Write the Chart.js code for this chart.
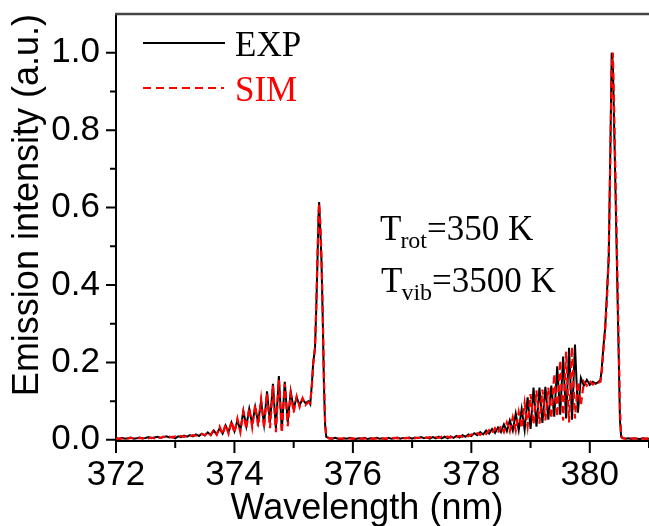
<!DOCTYPE html>
<html><head><meta charset="utf-8">
<script src="https://cdn.jsdelivr.net/npm/chart.js@4.4.1/dist/chart.umd.min.js"></script>
<style>html,body{margin:0;padding:0;background:#fff;}#wrap{width:649px;height:526px;}</style>
</head><body>
<div id="wrap"><canvas id="c" width="649" height="526"></canvas></div>
<script>
// ---- data ----
const wavelength = [
372.00,372.05,372.10,372.15,372.20,372.25,372.30,372.35,372.40,372.45,
372.50,372.55,372.60,372.65,372.70,372.75,372.80,372.85,372.90,372.95,
373.00,373.05,373.10,373.15,373.20,373.25,373.30,373.35,373.40,373.45,
373.50,373.55,373.60,373.65,373.70,373.75,373.80,373.85,373.90,373.95,
374.00,374.05,374.10,374.15,374.20,374.25,374.30,374.35,374.40,374.45,
374.50,374.55,374.60,374.65,374.70,374.75,374.80,374.85,374.90,374.95,
375.00,375.05,375.10,375.15,375.20,375.25,
375.28,375.31,375.33,375.36,375.38,375.40,375.42,375.43,375.45,375.47,375.49,375.51,375.53,
375.55,375.60,375.65,375.70,375.75,375.80,375.85,375.90,375.95,
376.00,376.05,376.10,376.15,376.20,376.25,376.30,376.35,376.40,376.45,
376.50,376.55,376.60,376.65,376.70,376.75,376.80,376.85,376.90,376.95,
377.00,377.05,377.10,377.15,377.20,377.25,377.30,377.35,377.40,377.45,
377.50,377.55,377.60,377.65,377.70,377.75,377.80,377.85,377.90,377.95,
378.00,378.05,378.10,378.15,378.20,378.25,378.30,378.35,378.40,378.45,
378.50,378.55,378.60,378.65,378.70,378.75,378.80,378.85,378.90,378.95,
379.00,379.05,379.10,379.15,379.20,379.25,379.30,379.35,379.40,379.45,
379.50,379.55,379.60,379.65,379.70,379.75,379.80,379.85,379.90,379.95,
380.00,380.05,380.10,380.15,
380.18,380.20,380.23,380.26,380.29,380.32,380.35,380.37,380.39,380.42,380.45,380.48,380.51,380.53,
380.55,380.60,380.65,380.70,380.75,380.80,380.85,380.90,380.95,381.00
];
const expIntensity = [
0.004,0.002,0.005,0.003,0.004,0.006,0.003,0.004,0.006,0.004,
0.005,0.007,0.004,0.006,0.008,0.005,0.007,0.009,0.006,0.008,
0.004,0.009,0.007,0.011,0.008,0.012,0.009,0.014,0.010,0.016,
0.011,0.019,0.012,0.024,0.014,0.030,0.016,0.037,0.020,0.045,
0.022,0.050,0.025,0.075,0.035,0.080,0.040,0.085,0.045,0.100,
0.040,0.125,0.045,0.145,0.030,0.165,0.025,0.150,0.045,0.125,
0.080,0.110,0.090,0.105,0.095,0.100,
0.092,0.150,0.200,0.235,0.330,0.450,0.580,0.614,0.540,0.460,0.320,0.150,0.040,
0.008,0.004,0.003,0.005,0.003,0.002,0.004,0.003,0.005,
0.003,0.002,0.004,0.003,0.005,0.002,0.004,0.003,0.005,0.003,
0.004,0.002,0.005,0.003,0.004,0.006,0.003,0.005,0.004,0.006,
0.003,0.006,0.004,0.007,0.004,0.006,0.003,0.007,0.004,0.008,
0.004,0.008,0.004,0.009,0.005,0.010,0.006,0.012,0.008,0.014,
0.010,0.017,0.012,0.020,0.014,0.024,0.016,0.028,0.018,0.032,
0.020,0.040,0.022,0.050,0.024,0.068,0.025,0.080,0.026,0.110,
0.028,0.135,0.034,0.135,0.044,0.137,0.052,0.140,0.060,0.190,
0.065,0.215,0.055,0.238,0.052,0.246,0.070,0.160,0.140,0.155,
0.142,0.150,0.145,0.150,
0.155,0.180,0.240,0.290,0.380,0.470,0.780,1.000,0.970,0.750,0.520,0.280,0.050,0.008,
0.005,0.003,0.004,0.002,0.004,0.003,0.002,0.004,0.003,0.003
];
const simIntensity = [
0.003,0.004,0.003,0.005,0.003,0.005,0.004,0.003,0.005,0.003,
0.006,0.004,0.006,0.004,0.007,0.005,0.008,0.006,0.008,0.006,
0.009,0.007,0.010,0.008,0.011,0.009,0.012,0.011,0.013,0.015,
0.012,0.020,0.013,0.026,0.013,0.034,0.014,0.040,0.016,0.048,
0.018,0.055,0.020,0.072,0.028,0.083,0.032,0.090,0.035,0.105,
0.030,0.120,0.030,0.140,0.020,0.155,0.018,0.145,0.035,0.120,
0.070,0.112,0.085,0.108,0.090,0.098,
0.095,0.145,0.195,0.240,0.340,0.460,0.585,0.610,0.560,0.470,0.340,0.170,0.050,
0.010,0.003,0.004,0.003,0.004,0.003,0.003,0.004,0.003,
0.004,0.003,0.003,0.004,0.003,0.004,0.003,0.004,0.003,0.004,
0.003,0.004,0.003,0.004,0.005,0.004,0.005,0.004,0.005,0.004,
0.005,0.004,0.006,0.004,0.006,0.005,0.007,0.005,0.007,0.005,
0.008,0.006,0.008,0.006,0.009,0.007,0.010,0.008,0.012,0.009,
0.014,0.011,0.017,0.013,0.020,0.015,0.025,0.017,0.030,0.018,
0.036,0.020,0.045,0.022,0.058,0.024,0.072,0.030,0.095,0.035,
0.118,0.040,0.128,0.042,0.130,0.050,0.135,0.055,0.170,0.060,
0.205,0.050,0.228,0.045,0.240,0.055,0.150,0.090,0.150,0.140,
0.152,0.143,0.150,0.148,
0.150,0.170,0.230,0.285,0.360,0.480,0.760,0.960,1.000,0.790,0.560,0.320,0.080,0.012,
0.004,0.003,0.003,0.004,0.003,0.003,0.004,0.003,0.003,0.004
];
const seriesNames = ['EXP', 'SIM'];
const xTickValues = [372, 374, 376, 378, 380];
const xMinorTickValues = [373, 375, 377, 379, 381];
const yTickValues = [0, 0.2, 0.4, 0.6, 0.8, 1.0];
const yMinorTickValues = [0.1, 0.3, 0.5, 0.7, 0.9];
const xTitle = 'Wavelength (nm)';
const yTitle = 'Emission intensity (a.u.)';
const annotations = [
  {main: 'T', sub: 'rot', rest: '=350 K'},
  {main: 'T', sub: 'vib', rest: '=3500 K'}
];

// ---- chart ----
const SANS = '"Liberation Sans", Arial, sans-serif';
const SERIF = '"Liberation Serif", "Times New Roman", serif';

const decorPlugin = {
  id: 'decor',
  afterDraw(chart) {
    const {ctx, chartArea: a, scales: {x, y}} = chart;
    ctx.save();
    ctx.strokeStyle = '#000';
    ctx.lineWidth = 2;
    ctx.beginPath();
    xTickValues.forEach(v => { const p = x.getPixelForValue(v); ctx.moveTo(p, a.bottom); ctx.lineTo(p, a.bottom + 12); });
    xMinorTickValues.forEach(v => { const p = x.getPixelForValue(v); ctx.moveTo(p, a.bottom); ctx.lineTo(p, a.bottom + 7); });
    yTickValues.forEach(v => { const p = y.getPixelForValue(v); ctx.moveTo(a.left, p); ctx.lineTo(a.left - 10, p); });
    yMinorTickValues.forEach(v => { const p = y.getPixelForValue(v); ctx.moveTo(a.left, p); ctx.lineTo(a.left - 6, p); });
    ctx.stroke();
    ctx.strokeStyle = '#444';
    ctx.lineWidth = 2.5;
    ctx.beginPath();
    ctx.moveTo(a.left - 1, a.top);
    ctx.lineTo(chart.width, a.top);
    ctx.stroke();
    ctx.fillStyle = '#000';
    ctx.font = '36px ' + SANS;
    ctx.textAlign = 'center';
    ctx.textBaseline = 'alphabetic';
    ctx.fillText(xTitle, 367, 519);
    ctx.lineWidth = 2;
    ctx.strokeStyle = '#000';
    ctx.setLineDash([]);
    ctx.beginPath(); ctx.moveTo(143, 43); ctx.lineTo(225, 43); ctx.stroke();
    ctx.strokeStyle = '#ff0000';
    ctx.setLineDash([8, 5]);
    ctx.beginPath(); ctx.moveTo(143, 88); ctx.lineTo(224, 88); ctx.stroke();
    ctx.setLineDash([]);
    ctx.font = '35px ' + SERIF;
    ctx.textAlign = 'left';
    ctx.fillStyle = '#000';
    ctx.fillText(seriesNames[0], 235, 56);
    ctx.fillStyle = '#ff0000';
    ctx.fillText(seriesNames[1], 235, 101);
    ctx.fillStyle = '#000';
    const rows = [{x: 380, base: 240}, {x: 381, base: 292}];
    annotations.forEach((an, i) => {
      let cx = rows[i].x;
      ctx.font = '35px ' + SERIF;
      ctx.fillText(an.main, cx, rows[i].base);
      cx += ctx.measureText(an.main).width - 1;
      ctx.font = '24px ' + SERIF;
      ctx.fillText(an.sub, cx, rows[i].base + 8);
      cx += ctx.measureText(an.sub).width;
      ctx.font = '35px ' + SERIF;
      ctx.fillText(an.rest, cx, rows[i].base);
    });
    ctx.restore();
  }
};

new Chart(document.getElementById('c'), {
  type: 'line',
  data: {
    datasets: [
      {
        label: seriesNames[1],
        data: wavelength.map((w, i) => ({x: w, y: simIntensity[i]})),
        borderColor: '#ff0000',
        borderWidth: 2.2,
        borderDash: [7, 4],
        pointRadius: 0,
        tension: 0,
        fill: false,
        order: 0
      },
      {
        label: seriesNames[0],
        data: wavelength.map((w, i) => ({x: w, y: expIntensity[i]})),
        borderColor: '#000000',
        borderWidth: 2,
        pointRadius: 0,
        tension: 0,
        fill: false,
        order: 1
      }
    ]
  },
  options: {
    responsive: false,
    animation: false,
    devicePixelRatio: 1,
    layout: {padding: {top: 14, right: 0, bottom: 0, left: 0}},
    plugins: {legend: {display: false}, tooltip: {enabled: false}},
    scales: {
      x: {
        type: 'linear',
        min: 372,
        max: 381,
        afterBuildTicks: s => { s.ticks = xTickValues.map(v => ({value: v})); },
        afterFit: s => { s.height = 85; s.paddingLeft = 0; s.paddingRight = 0; },
        grid: {display: false, drawTicks: false},
        border: {display: true, color: '#000', width: 2},
        ticks: {
          autoSkip: false,
          maxRotation: 0,
          padding: 13,
          color: '#000',
          font: {family: SANS, size: 35},
          callback: v => String(v)
        }
      },
      y: {
        type: 'linear',
        min: -0.003,
        max: 1.1,
        afterBuildTicks: s => { s.ticks = yTickValues.map(v => ({value: v})); },
        afterFit: s => { s.width = 116; s.paddingTop = 0; s.paddingBottom = 0; },
        grid: {display: false, drawTicks: false},
        border: {display: true, color: '#000', width: 2},
        ticks: {
          autoSkip: false,
          padding: 16,
          color: '#000',
          font: {family: SANS, size: 35},
          callback: v => Number(v).toFixed(1)
        },
        title: {
          display: true,
          text: yTitle,
          align: 'end',
          color: '#000',
          font: {family: SANS, size: 36},
          padding: {top: 6, bottom: 0}
        }
      }
    }
  },
  plugins: [decorPlugin]
});
</script>
</body></html>
